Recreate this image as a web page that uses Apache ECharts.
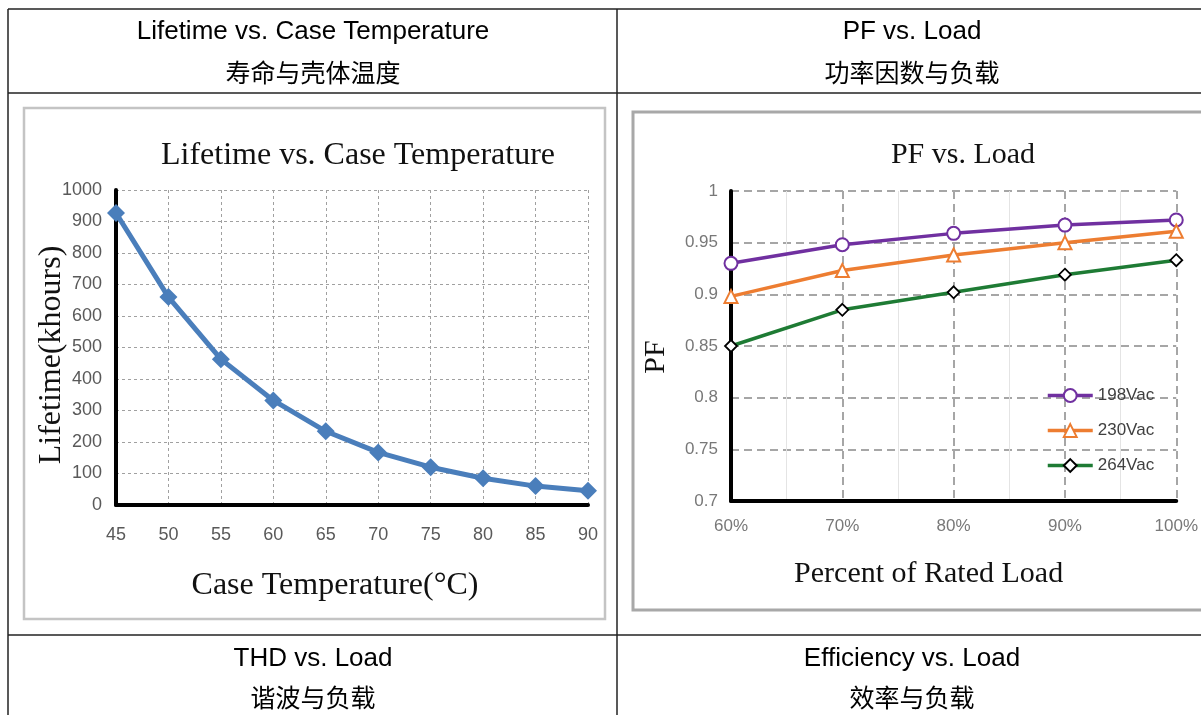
<!DOCTYPE html>
<html>
<head>
<meta charset="utf-8">
<script src="https://cdn.jsdelivr.net/npm/echarts@6/dist/echarts.min.js"></script>
<style>
html,body{margin:0;padding:0;background:#fff;}
#c{width:1201px;height:715px;}
</style>
</head>
<body>
<div id="c"></div>
<script>
// ---- data ----
const headerTitlesEn = ['Lifetime vs. Case Temperature', 'PF vs. Load', 'THD vs. Load', 'Efficiency vs. Load'];
const headerTitlesZh = ['寿命与壳体温度', '功率因数与负载', '谐波与负载', '效率与负载'];

const tempCategories = [45, 50, 55, 60, 65, 70, 75, 80, 85, 90];
const lifetimeValues = [927, 660, 463, 332, 234, 167, 120, 85, 60, 45];

const loadCategories = [60, 70, 80, 90, 100];
const pf198 = [0.930, 0.948, 0.959, 0.967, 0.972];
const pf230 = [0.898, 0.923, 0.938, 0.950, 0.961];
const pf264 = [0.850, 0.885, 0.902, 0.919, 0.933];
const pfSeriesNames = ['198Vac', '230Vac', '264Vac'];

// ---- chart ----
const chart = echarts.init(document.getElementById('c'), null, {renderer: 'canvas'});

const SERIF = '"Liberation Serif", "Times New Roman", serif';
const SANS = '"Liberation Sans", Arial, sans-serif';
const CJK = '"Noto Sans CJK SC", sans-serif';
const lineColor = '#222';

function hLine(y, x1, x2) {
  return {type: 'line', shape: {x1: x1, y1: y, x2: x2, y2: y}, style: {stroke: lineColor, lineWidth: 1.5}, silent: true};
}
function vLine(x, y1, y2) {
  return {type: 'line', shape: {x1: x, y1: y1, x2: x, y2: y2}, style: {stroke: lineColor, lineWidth: 1.5}, silent: true};
}
function txt(text, x, y, size, family, color) {
  return {type: 'text', x: x, y: y, silent: true,
    style: {text: text, align: 'center', verticalAlign: 'middle', fontSize: size, fontFamily: family, fill: color || '#000'}};
}

const graphics = [
  // table grid
  hLine(9, 8, 1201), hLine(93, 8, 1201), hLine(635, 8, 1201),
  vLine(8, 9, 715), vLine(617, 9, 715),
  // header texts
  txt(headerTitlesEn[0], 313, 32, 26, SANS), txt(headerTitlesZh[0], 313, 72, 25, CJK),
  txt(headerTitlesEn[1], 912, 32, 26, SANS), txt(headerTitlesZh[1], 912, 72, 25, CJK),
  txt(headerTitlesEn[2], 313, 659, 26, SANS), txt(headerTitlesZh[2], 313, 697, 25, CJK),
  txt(headerTitlesEn[3], 912, 659, 26, SANS), txt(headerTitlesZh[3], 912, 697, 25, CJK),
  // chart frames
  {type: 'rect', shape: {x: 24, y: 108, width: 581, height: 511}, style: {fill: 'none', stroke: '#c4c4c4', lineWidth: 2.5}, silent: true},
  {type: 'rect', shape: {x: 633, y: 112, width: 620, height: 498}, style: {fill: 'none', stroke: '#a8a8a8', lineWidth: 3}, silent: true},
  // chart titles
  txt('Lifetime vs. Case Temperature', 358, 156, 32, SERIF, '#111'),
  txt('PF vs. Load', 963, 155, 30, SERIF, '#111')
];

const option = {
  animation: false,
  backgroundColor: '#fff',
  graphic: graphics,
  grid: [
    {left: 116, top: 190, width: 472, height: 315, containLabel: false},
    {left: 731, top: 191, width: 447, height: 310, containLabel: false}
  ],
  legend: {
    data: pfSeriesNames,
    orient: 'vertical',
    left: 1046,
    top: 387,
    padding: 0,
    itemWidth: 45,
    itemHeight: 16,
    itemGap: 18,
    lineStyle: {width: 3.5},
    textStyle: {fontSize: 17, color: '#404040', fontFamily: SANS}
  },
  xAxis: [
    {
      type: 'value', gridIndex: 0, min: 45, max: 90, interval: 5,
      axisLine: {show: true, onZero: false, lineStyle: {color: '#000', width: 4}},
      axisTick: {show: false},
      axisLabel: {color: '#595959', fontSize: 18, margin: 21, fontFamily: SANS},
      splitLine: {show: true, lineStyle: {color: '#a0a0a0', width: 1, type: [3, 3]}},
      name: 'Case Temperature(°C)', nameLocation: 'middle', nameGap: 65, nameMoveOverlap: false,
      nameTextStyle: {fontFamily: SERIF, fontSize: 32, color: '#111', padding: [0, 34, 0, 0]}
    },
    {
      type: 'value', gridIndex: 1, min: 60, max: 100, interval: 10,
      axisLine: {show: true, onZero: false, lineStyle: {color: '#000', width: 4}},
      axisTick: {show: false},
      axisLabel: {color: '#787878', fontSize: 17, margin: 17, fontFamily: SANS, formatter: '{value}%'},
      splitLine: {show: true, lineStyle: {color: '#a6a6a6', width: 2, type: [8, 5]}},
      minorTick: {show: false, splitNumber: 2},
      minorSplitLine: {show: true, lineStyle: {color: '#e4e4e4', width: 1}},
      name: 'Percent of Rated Load', nameLocation: 'middle', nameGap: 58, nameMoveOverlap: false,
      nameTextStyle: {fontFamily: SERIF, fontSize: 30, color: '#111', padding: [0, 50, 0, 0]}
    }
  ],
  yAxis: [
    {
      type: 'value', gridIndex: 0, min: 0, max: 1000, interval: 100,
      axisLine: {show: true, onZero: false, lineStyle: {color: '#000', width: 4}},
      axisTick: {show: false},
      axisLabel: {color: '#595959', fontSize: 18, margin: 14, fontFamily: SANS, formatter: v => String(v)},
      splitLine: {show: true, lineStyle: {color: '#a0a0a0', width: 1, type: [3, 3]}},
      name: 'Lifetime(khours)', nameLocation: 'middle', nameGap: 48, nameMoveOverlap: false,
      nameTextStyle: {fontFamily: SERIF, fontSize: 32, color: '#111', padding: [0, 15, 0, 0]}
    },
    {
      type: 'value', gridIndex: 1, min: 0.7, max: 1, interval: 0.05,
      axisLine: {show: true, onZero: false, lineStyle: {color: '#000', width: 4}},
      axisTick: {show: false},
      axisLabel: {color: '#787878', fontSize: 17, margin: 13, fontFamily: SANS},
      splitLine: {show: true, lineStyle: {color: '#a6a6a6', width: 2, type: [8, 5]}},
      name: 'PF', nameLocation: 'middle', nameGap: 60, nameMoveOverlap: false,
      nameTextStyle: {fontFamily: SERIF, fontSize: 30, color: '#111', padding: [0, 22, 0, 0]}
    }
  ],
  series: [
    {
      name: 'Lifetime', type: 'line', xAxisIndex: 0, yAxisIndex: 0, clip: false,
      data: tempCategories.map((t, i) => [t, lifetimeValues[i]]),
      symbol: 'diamond', symbolSize: 18,
      lineStyle: {color: '#4A7EBB', width: 5},
      itemStyle: {color: '#4A7EBB'}, z: 3
    },
    {
      name: pfSeriesNames[0], type: 'line', xAxisIndex: 1, yAxisIndex: 1, clip: false,
      data: loadCategories.map((l, i) => [l, pf198[i]]),
      symbol: 'circle', symbolSize: 13,
      lineStyle: {color: '#7030A0', width: 3.5},
      itemStyle: {color: '#fff', borderColor: '#7030A0', borderWidth: 2}, z: 3
    },
    {
      name: pfSeriesNames[1], type: 'line', xAxisIndex: 1, yAxisIndex: 1, clip: false,
      data: loadCategories.map((l, i) => [l, pf230[i]]),
      symbol: 'triangle', symbolSize: 13,
      lineStyle: {color: '#ED7D31', width: 3.5},
      itemStyle: {color: '#fff', borderColor: '#ED7D31', borderWidth: 2}, z: 3
    },
    {
      name: pfSeriesNames[2], type: 'line', xAxisIndex: 1, yAxisIndex: 1, clip: false,
      data: loadCategories.map((l, i) => [l, pf264[i]]),
      symbol: 'diamond', symbolSize: 12,
      lineStyle: {color: '#1E7B34', width: 3.5},
      itemStyle: {color: '#fff', borderColor: '#000', borderWidth: 1.8}, z: 3
    }
  ]
};
chart.setOption(option);
</script>
</body>
</html>
